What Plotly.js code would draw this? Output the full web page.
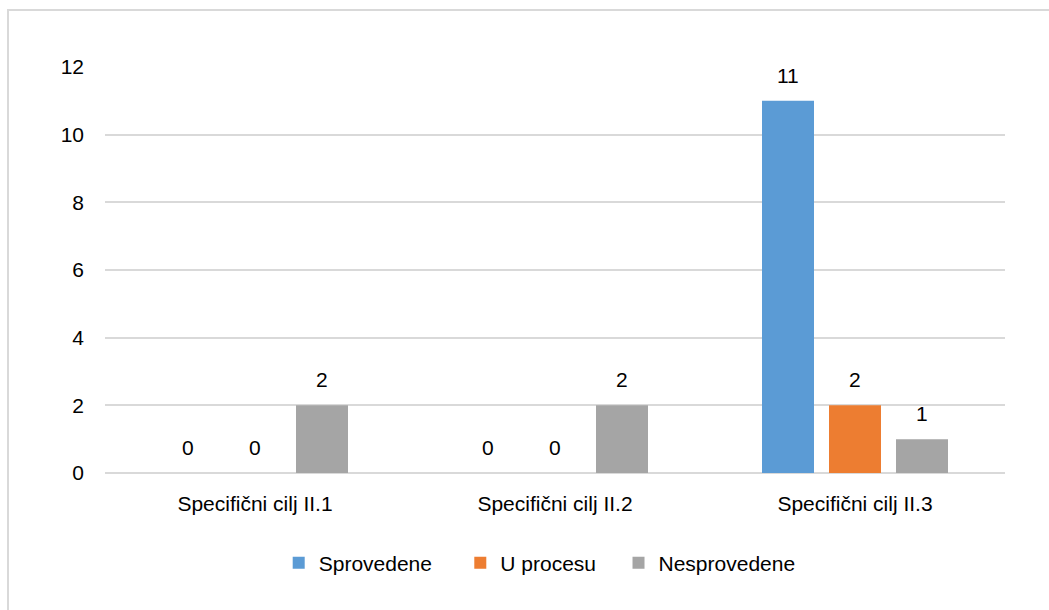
<!DOCTYPE html>
<html>
<head>
<meta charset="utf-8">
<script src="https://cdn.plot.ly/plotly-3.0.1.min.js"></script>
<style>
  html, body { margin: 0; padding: 0; background: #ffffff; }
  #frame { position: absolute; left: 7px; top: 9px; width: 1100px; height: 700px;
           border: 2px solid #d9d9d9; box-sizing: border-box; z-index: 0; }
  #chart { position: absolute; left: 0; top: 0; width: 1049px; height: 610px; z-index: 1; }
</style>
</head>
<body>
<div id="frame"></div>
<div id="chart"></div>
<script>
var categories = ["Specifični cilj II.1", "Specifični cilj II.2", "Specifični cilj II.3"];
var seriesNames = ["Sprovedene", "U procesu", "Nesprovedene"];
var sprovedene = [0, 0, 11];
var uProcesu = [0, 0, 2];
var nesprovedene = [2, 2, 1];
var yTicks = [0, 2, 4, 6, 8, 10, 12];

var colors = ["#5B9BD5", "#ED7D31", "#A5A5A5"];
var seriesValues = [sprovedene, uProcesu, nesprovedene];
var FONT = "Liberation Sans, Arial, sans-serif";
// extra trailing space in the legend entries to mimic the reference spacing
var legendPad = ["\u00a0\u00a0\u00a0\u00a0", "\u00a0\u00a0\u00a0", ""];

var margin = {l: 105, r: 44, t: 67, b: 137};
var W = 1049, H = 610;
var bargap = 0.33, bargroupgap = 0.224;

var traces = seriesValues.map(function (vals, i) {
  return {
    type: "bar",
    name: seriesNames[i] + legendPad[i],
    x: categories,
    y: vals,
    marker: {color: colors[i]},
    hoverinfo: "x+y+name"
  };
});

// data labels via annotations placed over each bar
var plotW = W - margin.l - margin.r;
var catW = plotW / categories.length;
var slot = catW * (1 - bargap) / seriesValues.length;
var annotations = [];
seriesValues.forEach(function (vals, i) {
  vals.forEach(function (v, j) {
    annotations.push({
      x: categories[j], y: v, xref: "x", yref: "y",
      text: String(v), showarrow: false,
      xanchor: "center", yanchor: "bottom",
      xshift: (i - (seriesValues.length - 1) / 2) * slot,
      yshift: 12,
      font: {family: FONT, size: 21, color: "#000000"}
    });
  });
});

var layout = {
  width: W, height: H,
  margin: margin,
  paper_bgcolor: "rgba(0,0,0,0)",
  plot_bgcolor: "rgba(0,0,0,0)",
  barmode: "group",
  bargap: bargap,
  bargroupgap: bargroupgap,
  font: {family: FONT, size: 21, color: "#000000"},
  xaxis: {
    type: "category",
    showgrid: false, showline: false, zeroline: false,
    ticks: "", ticklabelstandoff: 16,
    tickfont: {family: FONT, size: 21, color: "#000000"}
  },
  yaxis: {
    range: [0, 12],
    tickvals: yTicks,
    ticktext: yTicks.map(String),
    showgrid: true, gridcolor: "#d9d9d9", gridwidth: 2,
    zeroline: true, zerolinecolor: "#d9d9d9", zerolinewidth: 2,
    showline: false, ticks: "", ticklabelstandoff: 20,
    tickfont: {family: FONT, size: 21, color: "#000000"}
  },
  showlegend: true,
  legend: {
    orientation: "h",
    x: 0.483, xanchor: "center",
    y: -0.222, yanchor: "middle",
    font: {family: FONT, size: 21, color: "#000000"},
    bgcolor: "rgba(0,0,0,0)"
  },
  annotations: annotations
};

Plotly.newPlot("chart", traces, layout, {displayModeBar: false, staticPlot: true});
</script>
</body>
</html>
